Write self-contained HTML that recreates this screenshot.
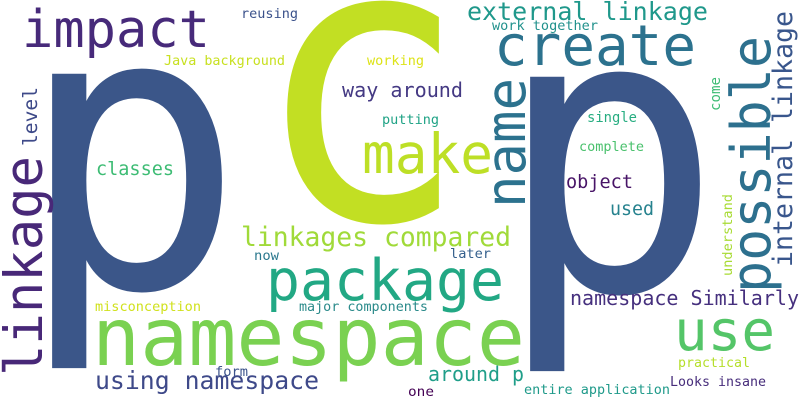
<!DOCTYPE html>
<html><head><meta charset="utf-8"><style>
html,body{margin:0;padding:0;background:#fff;}
svg{display:block}
text{font-family:"DejaVu Sans Mono","Liberation Mono",monospace;}
</style></head><body>
<svg width="800" height="400" viewBox="0 0 800 400" xmlns="http://www.w3.org/2000/svg">
<rect width="800" height="400" fill="#fff"/>
<text x="17" y="287" font-size="390" fill="#3b5689" textLength="228" lengthAdjust="spacingAndGlyphs">p</text>
<text x="495" y="290" font-size="390" fill="#3b5689" textLength="228" lengthAdjust="spacingAndGlyphs">p</text>
<text x="253" y="219" font-size="390" fill="#c2df23" textLength="216" lengthAdjust="spacingAndGlyphs">c</text>

<text x="22" y="47" font-size="52" fill="#472a7a" textLength="188" lengthAdjust="spacingAndGlyphs">impact</text>
<text x="241" y="18" font-size="13.4" fill="#3b528b" textLength="57" lengthAdjust="spacingAndGlyphs">reusing</text>
<text x="164" y="65" font-size="13.4" fill="#c8e020" textLength="121" lengthAdjust="spacingAndGlyphs">Java background</text>
<text x="367" y="65" font-size="13.4" fill="#dde318" textLength="57" lengthAdjust="spacingAndGlyphs">working</text>
<text x="342" y="97" font-size="20" fill="#443983" textLength="121" lengthAdjust="spacingAndGlyphs">way around</text>
<text x="382" y="124" font-size="13.4" fill="#20a386" textLength="57" lengthAdjust="spacingAndGlyphs">putting</text>
<text x="362" y="173" font-size="55" fill="#bddf26" textLength="131" lengthAdjust="spacingAndGlyphs">make</text>
<text x="96" y="175" font-size="18.6" fill="#3dbc74" textLength="78" lengthAdjust="spacingAndGlyphs">classes</text>
<text x="467" y="20" font-size="25" fill="#1f988b" textLength="241" lengthAdjust="spacingAndGlyphs">external linkage</text>
<text x="492" y="30" font-size="13.5" fill="#21918c" textLength="106" lengthAdjust="spacingAndGlyphs">work together</text>
<text x="494" y="65" font-size="56" fill="#2c728e" textLength="202" lengthAdjust="spacingAndGlyphs">create</text>
<text x="587" y="122" font-size="13.8" fill="#27ad81" textLength="50" lengthAdjust="spacingAndGlyphs">single</text>
<text x="579" y="151" font-size="13.4" fill="#4ac16d" textLength="65" lengthAdjust="spacingAndGlyphs">complete</text>
<text x="566" y="188" font-size="18.6" fill="#481467" textLength="67" lengthAdjust="spacingAndGlyphs">object</text>
<text x="610" y="215" font-size="18.3" fill="#26828e" textLength="44" lengthAdjust="spacingAndGlyphs">used</text>
<text x="241" y="246" font-size="26.4" fill="#a0da39" textLength="270" lengthAdjust="spacingAndGlyphs">linkages compared</text>
<text x="254" y="260" font-size="13.6" fill="#2a788e" textLength="25" lengthAdjust="spacingAndGlyphs">now</text>
<text x="450" y="258" font-size="13.5" fill="#35608d" textLength="41" lengthAdjust="spacingAndGlyphs">later</text>
<text x="266" y="300" font-size="56.7" fill="#22a884" textLength="238" lengthAdjust="spacingAndGlyphs">package</text>
<text x="95" y="311" font-size="13.5" fill="#d0e11c" textLength="106" lengthAdjust="spacingAndGlyphs">misconception</text>
<text x="299" y="311" font-size="13.4" fill="#2a8a8a" textLength="129" lengthAdjust="spacingAndGlyphs">major components</text>
<text x="570" y="305" font-size="20" fill="#46307e" textLength="229" lengthAdjust="spacingAndGlyphs">namespace Similarly</text>
<text x="92" y="365" font-size="80" fill="#7ad151" textLength="433" lengthAdjust="spacingAndGlyphs">namespace</text>
<text x="674" y="350" font-size="56" fill="#54c568" textLength="101" lengthAdjust="spacingAndGlyphs">use</text>
<text x="95" y="389" font-size="24.8" fill="#3e4989" textLength="224" lengthAdjust="spacingAndGlyphs">using namespace</text>
<text x="215" y="376" font-size="13.5" fill="#3b528b" textLength="33" lengthAdjust="spacingAndGlyphs">form</text>
<text x="428" y="381" font-size="20" fill="#1f9e89" textLength="96" lengthAdjust="spacingAndGlyphs">around p</text>
<text x="408" y="396" font-size="13.5" fill="#440154" textLength="26" lengthAdjust="spacingAndGlyphs">one</text>
<text x="524" y="394" font-size="13.5" fill="#1f9a8a" textLength="146" lengthAdjust="spacingAndGlyphs">entire application</text>
<text x="678" y="367" font-size="13.2" fill="#b5de2b" textLength="72" lengthAdjust="spacingAndGlyphs">practical</text>
<text x="670" y="386" font-size="13.2" fill="#472d7b" textLength="96" lengthAdjust="spacingAndGlyphs">Looks insane</text>

<text transform="translate(42,376) rotate(-90)" font-size="53" fill="#482878" textLength="220" lengthAdjust="spacingAndGlyphs">linkage</text>
<text transform="translate(37,146) rotate(-90)" font-size="19.7" fill="#3e4a89" textLength="59" lengthAdjust="spacingAndGlyphs">level</text>
<text transform="translate(525,208) rotate(-90)" font-size="55" fill="#2c728e" textLength="130" lengthAdjust="spacingAndGlyphs">name</text>
<text transform="translate(770,293) rotate(-90)" font-size="54" fill="#2d708e" textLength="257" lengthAdjust="spacingAndGlyphs">possible</text>
<text transform="translate(792,267) rotate(-90)" font-size="26.6" fill="#39568c" textLength="256" lengthAdjust="spacingAndGlyphs">internal linkage</text>
<text transform="translate(720,111) rotate(-90)" font-size="14" fill="#3dbc74" textLength="34" lengthAdjust="spacingAndGlyphs">come</text>
<text transform="translate(732,276) rotate(-90)" font-size="13.5" fill="#a8db34" textLength="82" lengthAdjust="spacingAndGlyphs">understand</text>
</svg>
</body></html>
